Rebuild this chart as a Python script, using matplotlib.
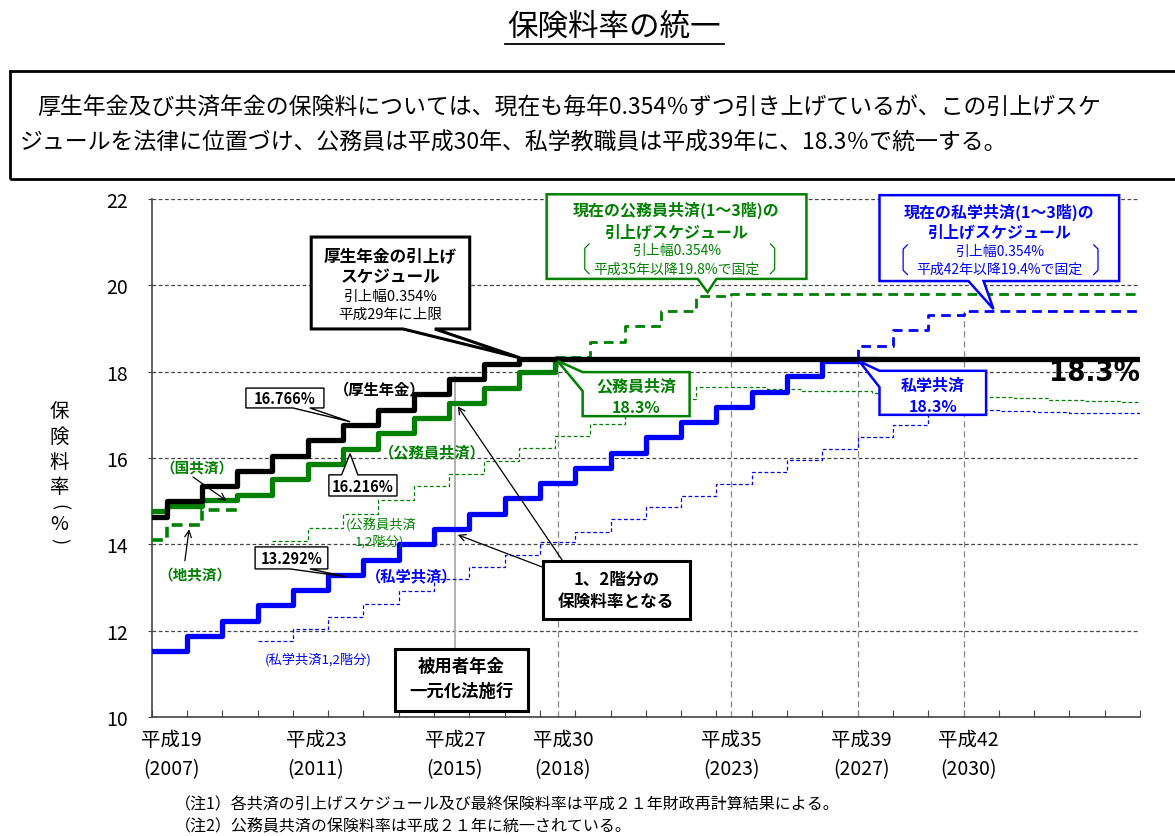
import matplotlib.pyplot as plt
from matplotlib.patches import Polygon, Rectangle
from matplotlib.lines import Line2D

plt.rcParams['font.family'] = ['Noto Sans CJK JP', 'DejaVu Sans']

GREEN = '#008000'
BLUE = '#0000ff'

# 厚生年金 (毎年9月に0.354%引上げ)
kosei_x = [2007, 2007.42, 2008.42, 2009.42, 2010.42, 2011.42, 2012.42, 2013.42,
           2014.42, 2015.42, 2016.42, 2017.42, 2035]
kosei_y = [14.642, 14.996, 15.350, 15.704, 16.058, 16.412, 16.766, 17.120,
           17.474, 17.828, 18.182, 18.300, 18.300]

# 国共済 -> 公務員共済
koumuin_x = [2007, 2007.42, 2008.42, 2009.42, 2010.42, 2011.42, 2012.42, 2013.42,
             2014.42, 2015.42, 2016.42, 2017.42, 2018.42, 2019.0]
koumuin_y = [14.767, 14.896, 15.025, 15.154, 15.508, 15.862, 16.216, 16.570,
             16.924, 17.278, 17.632, 17.986, 18.300, 18.300]

# 地共済
chikyo_x = [2007, 2007.42, 2008.42, 2009.42]
chikyo_y = [14.092, 14.446, 14.800, 14.800]

# 現在の公務員共済(1~3階)
koumuin_now_x = [2018.42, 2019.42, 2020.42, 2021.42, 2022.42, 2023.42, 2035]
koumuin_now_y = [18.340, 18.694, 19.048, 19.402, 19.756, 19.800, 19.800]

# 私学共済 (毎年4月)
shigaku_x = [2007, 2008, 2009, 2010, 2011, 2012, 2013, 2014, 2015, 2016, 2017,
             2018, 2019, 2020, 2021, 2022, 2023, 2024, 2025, 2026, 2027, 2027.5]
shigaku_y = [11.522, 11.876, 12.230, 12.584, 12.938, 13.292, 13.646, 14.000,
             14.354, 14.708, 15.062, 15.416, 15.770, 16.124, 16.478, 16.832,
             17.186, 17.540, 17.894, 18.248, 18.300, 18.300]

# 現在の私学共済(1~3階)
shigaku_now_x = [2027, 2027, 2028, 2029, 2030, 2035]
shigaku_now_y = [18.300, 18.602, 18.956, 19.310, 19.400, 19.400]

# 公務員共済 1,2階分
koumuin12_x = [2010.42, 2011.42, 2012.42, 2013.42, 2014.42, 2015.42, 2016.42,
               2017.42, 2018.42, 2019.42, 2020.42, 2021.42, 2022.42, 2024.42,
               2025.42, 2027.42, 2028.42, 2029.42, 2030.42, 2031.42, 2032.42,
               2033.42, 2034.42, 2035]
koumuin12_y = [14.08, 14.38, 14.71, 15.03, 15.36, 15.63, 15.94, 16.24, 16.52,
               16.79, 17.08, 17.37, 17.64, 17.60, 17.56, 17.50, 17.47, 17.44,
               17.42, 17.38, 17.35, 17.33, 17.30, 17.30]

# 私学共済 1,2階分
shigaku12_x = [2010, 2011, 2012, 2013, 2014, 2015, 2016, 2017, 2018, 2019, 2020,
               2021, 2022, 2023, 2024, 2025, 2026, 2027, 2028, 2029, 2030, 2031,
               2032, 2033, 2035]
shigaku12_y = [11.77, 12.04, 12.31, 12.62, 12.91, 13.20, 13.47, 13.75, 14.05,
               14.29, 14.59, 14.86, 15.13, 15.40, 15.68, 15.96, 16.22, 16.49,
               16.76, 17.02, 17.12, 17.09, 17.06, 17.04, 17.04]

# 目盛り
tick_years = list(range(2007, 2036))
label_pos = [2007.55, 2011.65, 2015.59, 2018.65, 2023.43, 2027.1, 2030.14]
label_txt = ['平成19\n(2007)', '平成23\n(2011)', '平成27\n(2015)', '平成30\n(2018)',
             '平成35\n(2023)', '平成39\n(2027)', '平成42\n(2030)']
vline_x = [2018.5, 2023.42, 2027.0, 2030.0]
vline_top = [18.3, 19.8, 18.3, 19.4]

fig = plt.figure(figsize=(11.75, 8.37), dpi=100)
fig.patch.set_facecolor('white')
ax = fig.add_axes([0.1291, 0.1422, 0.8411, 0.6188])

ax.set_xlim(2007, 2035)
ax.set_ylim(10, 22)
ax.set_yticks(range(10, 23, 2))
ax.grid(axis='y', color='#444444', ls=(0, (3, 2)), lw=0.9)
ax.set_axisbelow(True)
for s in ['top', 'right']:
    ax.spines[s].set_visible(False)
for s in ['left', 'bottom']:
    ax.spines[s].set_color('#444444')
    ax.spines[s].set_linewidth(1.2)

ax.set_xticks(tick_years)
ax.set_xticklabels([''] * len(tick_years))
ax.set_xticks(label_pos, minor=True)
ax.set_xticklabels(label_txt, minor=True, fontsize=14, linespacing=1.45)
ax.tick_params(axis='x', which='major', direction='in', length=5, color='#444444')
ax.tick_params(axis='x', which='minor', length=0, pad=9)
ax.tick_params(axis='y', direction='out', length=3, pad=14, labelsize=14, color='#444444')

# 参照線
for vx, vt in zip(vline_x, vline_top):
    ax.plot([vx, vx], [10, vt], color='#888888', lw=0.9, ls=(0, (5, 3)), zorder=1.5)
ax.plot([2015.6, 2015.6], [11.58, 17.88], color='#aaaaaa', lw=1.3, zorder=1.5)

# 系列
ax.step(koumuin12_x, koumuin12_y, where='post', color=GREEN, lw=0.9, ls=(0, (3, 2)), zorder=2)
ax.step(shigaku12_x, shigaku12_y, where='post', color=BLUE, lw=0.9, ls=(0, (3, 2)), zorder=2)
ax.step(koumuin_now_x, koumuin_now_y, where='post', color=GREEN, lw=2, ls=(0, (3.5, 2.2)), zorder=3)
ax.step(shigaku_now_x, shigaku_now_y, where='post', color=BLUE, lw=2, ls=(0, (3.5, 2.2)), zorder=3)
ax.step(chikyo_x, chikyo_y, where='post', color=GREEN, lw=2.6, ls=(0, (3, 1.8)), zorder=3)
ax.step(shigaku_x, shigaku_y, where='post', color=BLUE, lw=3.8, zorder=4)
ax.step(koumuin_x, koumuin_y, where='post', color=GREEN, lw=3.8, zorder=4.5)
ax.step(kosei_x, kosei_y, where='post', color='black', lw=3.8, zorder=5)


def callout(x0, x1, y0, y1, side, b0, b1, tip, ec, lw):
    if side == 'bottom':
        pts = [(x0, y1), (x1, y1), (x1, y0), (b1, y0), tip, (b0, y0), (x0, y0)]
    elif side == 'top':
        pts = [(x0, y1), (b0, y1), tip, (b1, y1), (x1, y1), (x1, y0), (x0, y0)]
    else:
        pts = [(x0, y1), (x1, y1), (x1, y0), (x0, y0), (x0, b0), tip, (x0, b1)]
    ax.add_patch(Polygon(pts, closed=True, fc='white', ec=ec, lw=lw,
                         clip_on=False, zorder=6, joinstyle='miter'))


def box(x0, x1, y0, y1, ec, lw):
    ax.add_patch(Rectangle((x0, y0), x1 - x0, y1 - y0, fc='white', ec=ec, lw=lw,
                           clip_on=False, zorder=6))


def txt(x, y, s, color='black', size=11, bold=False, **kw):
    ax.text(x, y, s, color=color, fontsize=size, ha=kw.pop('ha', 'center'), va='center',
            fontweight='bold' if bold else 'normal', zorder=7, clip_on=False, **kw)


def bracket(x, y0, y1, d, color):
    ax.add_line(Line2D([x + d, x, x, x + d], [y1, y1 - 0.1, y0 + 0.1, y0], color=color,
                       lw=0.9, zorder=7, clip_on=False))


def arrow(tip, tail):
    ax.annotate('', xy=tip, xytext=tail, zorder=7,
                arrowprops=dict(arrowstyle='->', lw=0.9, color='black',
                                shrinkA=0, shrinkB=0, mutation_scale=12))


# 厚生年金の引上げスケジュール
callout(2011.52, 2016.01, 18.99, 21.12, 'bottom', 2014.12, 2015.02, (2017.44, 18.32), 'black', 2.2)
txt(2013.77, 20.69, '厚生年金の引上げ', size=12, bold=True)
txt(2013.77, 20.22, 'スケジュール', size=12, bold=True)
txt(2013.77, 19.76, '引上幅0.354%', size=10.5)
txt(2013.77, 19.34, '平成29年に上限', size=10.5)

# 値ラベル
callout(2009.67, 2011.88, 17.16, 17.62, 'bottom', 2011.0, 2011.48, (2012.62, 16.84), 'black', 1.0)
txt(2010.78, 17.39, '16.766%', size=10.5, bold=True)
callout(2012.02, 2013.95, 15.12, 15.61, 'top', 2012.38, 2012.84, (2012.62, 16.1), 'black', 1.0)
txt(2012.98, 15.36, '16.216%', size=10.5, bold=True)
callout(2009.93, 2011.99, 13.43, 13.94, 'bottom', 2010.92, 2011.48, (2012.5, 13.25), 'black', 1.0)
txt(2010.96, 13.68, '13.292%', size=10.5, bold=True)

# 18.3% 到達
callout(2019.21, 2022.24, 16.97, 17.99, 'left', 17.55, 17.99, (2018.5, 18.25), GREEN, 1.8)
txt(2020.72, 17.68, '公務員共済', GREEN, 11.5, True)
txt(2020.72, 17.19, '18.3%', GREEN, 11.5, True)
callout(2027.62, 2030.64, 17.0, 18.02, 'left', 17.64, 18.02, (2027.05, 18.24), BLUE, 1.8)
txt(2029.13, 17.70, '私学共済', BLUE, 11.5, True)
txt(2029.13, 17.20, '18.3%', BLUE, 11.5, True)

# 現在のスケジュール
callout(2018.19, 2025.55, 20.15, 22.11, 'bottom', 2022.47, 2023.0, (2022.75, 19.84), GREEN, 1.8)
txt(2021.87, 21.75, '現在の公務員共済(1～3階)の', GREEN, 11.5, True)
txt(2021.87, 21.26, '引上げスケジュール', GREEN, 11.5, True)
txt(2021.87, 20.82, '引上幅0.354%', GREEN, 10)
txt(2021.87, 20.38, '平成35年以降19.8%で固定', GREEN, 10)
bracket(2019.27, 20.27, 20.96, 0.12, GREEN)
bracket(2024.65, 20.27, 20.96, -0.12, GREEN)

callout(2027.62, 2034.41, 20.1, 22.09, 'bottom', 2030.14, 2030.57, (2030.85, 19.45), BLUE, 1.8)
txt(2031.02, 21.72, '現在の私学共済(1～3階)の', BLUE, 11.5, True)
txt(2031.02, 21.26, '引上げスケジュール', BLUE, 11.5, True)
txt(2031.02, 20.79, '引上幅0.354%', BLUE, 10)
txt(2031.02, 20.38, '平成42年以降19.4%で固定', BLUE, 10)
bracket(2028.29, 20.25, 20.94, 0.12, BLUE)
bracket(2033.81, 20.25, 20.94, -0.12, BLUE)

# 一元化・1,2階分
box(2013.89, 2017.66, 10.14, 11.58, 'black', 2.2)
txt(2015.78, 11.18, '被用者年金', size=12.5, bold=True)
txt(2015.78, 10.60, '一元化法施行', size=12.5, bold=True)
box(2018.08, 2022.24, 12.27, 13.61, 'black', 2.2)
txt(2020.16, 13.20, '1、2階分の', size=12, bold=True)
txt(2020.16, 12.69, '保険料率となる', size=12, bold=True)
arrow((2015.67, 17.2), (2018.65, 13.61))
arrow((2015.67, 14.22), (2018.08, 13.47))

# 系列名
txt(2013.46, 17.60, '（厚生年金）', size=11, bold=True)
txt(2008.27, 15.79, '（国共済）', GREEN, 10.5, True)
arrow((2009.12, 15.01), (2008.17, 15.56))
txt(2014.96, 16.16, '（公務員共済）', GREEN, 11, True)
txt(2008.23, 13.31, '（地共済）', GREEN, 10.5, True)
arrow((2008.06, 14.35), (2007.94, 13.62))
txt(2013.51, 14.47, '(公務員共済', GREEN, 9.5)
txt(2013.46, 14.08, '1,2階分)', GREEN, 9.5)
txt(2014.37, 13.27, '（私学共済）', BLUE, 11, True)
txt(2011.71, 11.34, '(私学共済1,2階分)', BLUE, 9.5)
ax.text(2035, 17.99, '18.3%', fontsize=21, ha='right', va='center', zorder=7,
        family='DejaVu Sans', fontstretch='condensed', fontweight='bold')

# 縦書きの軸ラベル
for ch, py in zip(['保', '険', '料', '率'], [412, 437, 463, 488]):
    fig.text(59 / 1175, 1 - py / 837, ch, fontsize=14, ha='center', va='center')
fig.text(59 / 1175, 1 - 507 / 837, '(', fontsize=13, ha='center', va='center', rotation=-90)
fig.text(59 / 1175, 1 - 524 / 837, '%', fontsize=14, ha='center', va='center')
fig.text(59 / 1175, 1 - 541 / 837, ')', fontsize=13, ha='center', va='center', rotation=-90)

# タイトル
fig.text(614 / 1175, 1 - 27 / 837, '保険料率の統一', fontsize=22, ha='center', va='center')
fig.add_artist(Line2D([505 / 1175, 724 / 1175], [1 - 45 / 837, 1 - 45 / 837],
                      color='black', lw=1.3, transform=fig.transFigure))

# 説明ボックス
fig.add_artist(Rectangle((10 / 1175, 1 - 180 / 837), 1.2, 108 / 837, fill=False,
                         ec='black', lw=2, transform=fig.transFigure))
fig.text(37 / 1175, 1 - 108 / 837,
         '厚生年金及び共済年金の保険料については、現在も毎年0.354％ずつ引き上げているが、この引上げスケ',
         fontsize=16.5, ha='left', va='center')
fig.text(20 / 1175, 1 - 143 / 837,
         'ジュールを法律に位置づけ、公務員は平成30年、私学教職員は平成39年に、18.3％で統一する。',
         fontsize=16.5, ha='left', va='center')

# 注記
fig.text(175 / 1175, 1 - 805 / 837,
         '（注1）各共済の引上げスケジュール及び最終保険料率は平成２１年財政再計算結果による。',
         fontsize=11.5, ha='left', va='center')
fig.text(175 / 1175, 1 - 827 / 837,
         '（注2）公務員共済の保険料率は平成２１年に統一されている。',
         fontsize=11.5, ha='left', va='center')

fig.savefig('out.png', dpi=100, facecolor='white')
